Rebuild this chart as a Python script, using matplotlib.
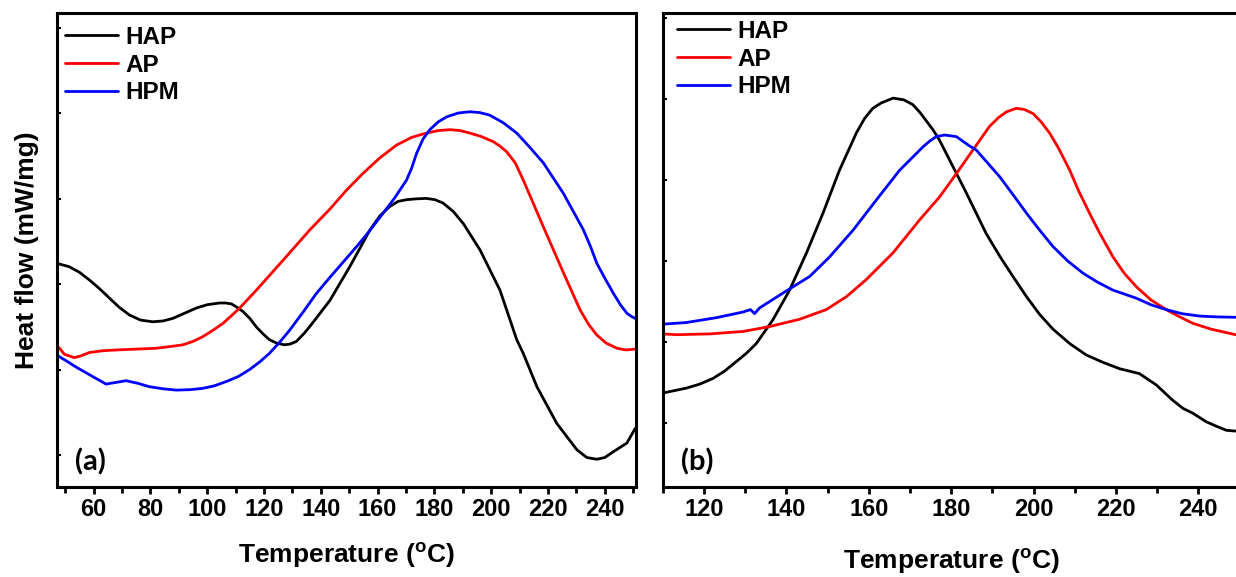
import numpy as np
import matplotlib.pyplot as plt

# ---- panel (a) data ----
a_hap_t = [47.0, 51.4, 55.0, 58.5, 62.0, 65.5, 69.0, 72.6, 76.5, 80.8, 84.5, 87.9, 92.0, 96.1, 100.0,
           104.3, 106.5, 108.5, 110.5, 112.6, 115.0, 117.3, 119.6, 121.9, 124.5, 127.2, 129.3, 131.4,
           134.3, 137.2, 140.2, 143.2, 150.2, 157.3, 160.8, 164.3, 167.2, 170.2, 173.7, 177.2, 180.2,
           183.1, 186.7, 190.2, 196.1, 203.1, 209.0, 211.3, 216.1, 223.1, 230.2, 233.7, 237.2, 240.0,
           243.1, 247.8, 250.7]
a_hap_y = [2.245, 2.205, 2.14, 2.05, 1.95, 1.84, 1.73, 1.64, 1.58, 1.56, 1.57, 1.60, 1.66, 1.72, 1.76,
           1.78, 1.78, 1.77, 1.73, 1.68, 1.60, 1.50, 1.42, 1.35, 1.31, 1.29, 1.30, 1.33,
           1.43, 1.55, 1.68, 1.81, 2.205, 2.635, 2.80, 2.91, 2.97, 2.99, 3.00, 3.005, 2.99,
           2.95, 2.85, 2.71, 2.40, 1.93, 1.35, 1.19, 0.80, 0.37, 0.06, -0.03, -0.05, -0.03,
           0.04, 0.14, 0.31]

a_ap_t = [47.0, 49.7, 53.2, 55.5, 58.5, 63.0, 67.9, 75.0, 82.0, 87.0, 91.4, 95.0, 98.4, 102.0, 105.5,
          108.5, 111.4, 117.3, 126.7, 136.1, 143.2, 149.0, 154.9, 160.8, 166.7, 172.0, 177.2, 181.5,
          185.5, 189.0, 192.5, 196.5, 200.7, 203.0, 205.5, 208.5, 211.3, 214.8, 218.4, 225.5, 231.3,
          234.3, 237.2, 240.5, 244.3, 247.5, 250.7]
a_ap_y = [1.29, 1.18, 1.14, 1.16, 1.20, 1.22, 1.23, 1.24, 1.25, 1.27, 1.29, 1.33, 1.385, 1.46, 1.54,
          1.63, 1.72, 1.93, 2.28, 2.635, 2.88, 3.10, 3.30, 3.48, 3.63, 3.72, 3.77, 3.80,
          3.81, 3.80, 3.77, 3.73, 3.67, 3.62, 3.55, 3.42, 3.22, 2.95, 2.67, 2.13, 1.70,
          1.53, 1.405, 1.31, 1.25, 1.23, 1.24]

a_hpm_t = [47.0, 50.5, 53.8, 59.6, 64.4, 66.0, 67.9, 71.4, 75.5, 79.6, 84.5, 89.1, 94.0, 98.4, 102.5,
           106.7, 111.0, 114.9, 118.5, 121.9, 125.5, 129.0, 133.7, 138.4, 143.2, 147.9, 152.6, 157.3,
           161.9, 166.0, 170.2, 172.0, 173.7, 176.0, 178.4, 181.3, 184.3, 188.4, 192.5, 196.0, 199.5,
           204.3, 209.0, 213.7, 218.4, 225.5, 232.5, 235.0, 237.2, 240.2, 243.1, 245.5, 247.8, 249.5, 250.7]
a_hpm_y = [1.17, 1.10, 1.03, 0.92, 0.83, 0.84, 0.85, 0.87, 0.84, 0.80, 0.775, 0.76, 0.765, 0.78, 0.81,
           0.86, 0.92, 1.00, 1.09, 1.19, 1.32, 1.46, 1.67, 1.89, 2.08, 2.26, 2.44, 2.63,
           2.83, 3.01, 3.22, 3.36, 3.53, 3.70, 3.81, 3.90, 3.96, 4.005, 4.02, 4.01, 3.98,
           3.89, 3.77, 3.60, 3.42, 3.06, 2.635, 2.44, 2.245, 2.06, 1.89, 1.76, 1.66, 1.62, 1.60]

# ---- panel (b) data ----
b_hap_t = [110.0, 115.7, 119.0, 122.2, 125.0, 127.9, 130.3, 132.7, 136.7, 140.8, 144.9, 148.9, 152.9,
           157.0, 159.0, 161.0, 163.0, 165.9, 168.5, 170.7, 172.5, 175.6, 177.2, 181.3, 183.7, 186.1,
           188.5, 191.8, 195.0, 198.3, 201.5, 204.7, 208.8, 212.8, 216.8, 220.9, 225.7, 229.8, 233.8,
           236.3, 238.7, 241.9, 244.4, 246.8, 249.05]
b_hap_y = [0.37, 0.43, 0.48, 0.55, 0.64, 0.76, 0.86, 0.98, 1.27, 1.64, 2.10, 2.59, 3.12,
           3.58, 3.76, 3.885, 3.95, 4.01, 3.99, 3.93, 3.83, 3.62, 3.49, 3.08, 2.84, 2.59,
           2.34, 2.06, 1.81, 1.56, 1.34, 1.16, 0.98, 0.84, 0.75, 0.67, 0.61, 0.47, 0.28,
           0.18, 0.12, 0.016, -0.04, -0.09, -0.10]

b_ap_t = [110.0, 113.3, 121.4, 129.5, 135.9, 143.2, 149.7, 154.6, 159.4, 165.9, 172.4, 177.2, 181.3,
          185.3, 189.3, 191.5, 193.4, 195.8, 197.8, 199.9, 201.8, 203.9, 206.0, 208.8, 211.0, 213.6,
          216.0, 219.3, 222.0, 225.0, 228.5, 232.2, 235.5, 238.7, 243.0, 249.05]
b_ap_y = [1.10, 1.09, 1.10, 1.13, 1.19, 1.28, 1.40, 1.56, 1.77, 2.10, 2.51, 2.79, 3.08,
          3.37, 3.66, 3.77, 3.84, 3.885, 3.87, 3.82, 3.72, 3.58, 3.40, 3.12, 2.86, 2.59,
          2.35, 2.05, 1.85, 1.68, 1.52, 1.40, 1.31, 1.23, 1.16, 1.09]

b_hpm_t = [110.0, 115.7, 123.0, 129.5, 131.3, 132.3, 133.5, 140.0, 145.7, 150.5, 156.2, 161.8, 167.5,
           173.2, 174.8, 176.4, 178.4, 181.3, 182.8, 184.5, 186.1, 191.8, 195.0, 198.3, 201.5, 204.7,
           208.3, 212.0, 215.5, 219.3, 225.0, 228.5, 232.2, 236.0, 240.3, 244.5, 249.05]
b_hpm_y = [1.22, 1.24, 1.30, 1.37, 1.40, 1.35, 1.42, 1.63, 1.81, 2.05, 2.38, 2.75, 3.12,
           3.41, 3.48, 3.535, 3.555, 3.535, 3.48, 3.42, 3.37, 3.04, 2.82, 2.59, 2.38, 2.18,
           2.00, 1.85, 1.74, 1.64, 1.54, 1.46, 1.40, 1.35, 1.32, 1.31, 1.305]

labels = ['HAP', 'AP', 'HPM']
colors = ['black', 'red', 'blue']

plt.rcParams['font.family'] = ['Liberation Sans', 'DejaVu Sans']
plt.rcParams['font.weight'] = 'bold'
plt.rcParams['mathtext.fontset'] = 'custom'
plt.rcParams['mathtext.rm'] = 'Liberation Sans:bold'
plt.rcParams['mathtext.bf'] = 'Liberation Sans:bold'

W, H = 1236, 577
fig = plt.figure(figsize=(W / 100, H / 100), dpi=100)
ax1 = fig.add_axes([56.7 / W, 1 - 487 / H, (636 - 56.7) / W, (487 - 12.7) / H])
ax2 = fig.add_axes([662.7 / W, 1 - 487 / H, (1239.5 - 662.7) / W, (487 - 12.7) / H])

panels = [
    (ax1, [(a_hap_t, a_hap_y), (a_ap_t, a_ap_y), (a_hpm_t, a_hpm_y)], (47, 251), (-0.375, 5.18),
     '(a)', (8.3 / 579.3, 1 - 13 / 474.3), 14),
    (ax2, [(b_hap_t, b_hap_y), (b_ap_t, b_ap_y), (b_hpm_t, b_hpm_y)], (110, 250), (-0.79, 5.065),
     '(b)', (14 / 576.8, 1 - 7 / 474.3), 18),
]

for ax, series, xl, yl, tag, leg_pos, xpad in panels:
    for (t, y), lab, c in zip(series, labels, colors):
        ax.plot(t, y, color=c, lw=2.0, label=lab, solid_joinstyle='round', solid_capstyle='round')
    ax.set_xlim(*xl)
    ax.set_ylim(*yl)
    ax.set_xticks(np.arange(60 if xl[0] < 60 else 120, 250, 20))
    ax.set_xticks(np.arange(50 if xl[0] < 60 else 110, 252, 10), minor=True)
    ax.set_yticks(np.arange(0, 6, 1))
    ax.set_yticklabels([])
    for s in ax.spines.values():
        s.set_linewidth(2.2)
    ax.tick_params(axis='x', which='major', direction='out', length=5, width=2, pad=3, labelsize=17)
    ax.tick_params(axis='x', which='minor', direction='out', length=4, width=2)
    ax.tick_params(axis='y', which='major', direction='in', length=3, width=1.5)
    ax.set_xlabel(r'Temperature ($^{\rm o}$C)', fontsize=19, fontweight='bold', labelpad=xpad)
    ax.text(0.031, 0.053, tag, transform=ax.transAxes, fontsize=21, fontweight='bold',
            family=['Lato', 'DejaVu Sans'], va='center', ha='left')
    ax.legend(loc='upper left', bbox_to_anchor=leg_pos, frameon=False, handlelength=2.2,
              handletextpad=0.3, labelspacing=0.2, borderaxespad=0, borderpad=0,
              prop={'weight': 'bold', 'size': 17.5})

ax1.set_ylabel('Heat flow (mW/mg)', fontsize=19, fontweight='bold', labelpad=9)

fig.savefig('out.png', dpi=100)
